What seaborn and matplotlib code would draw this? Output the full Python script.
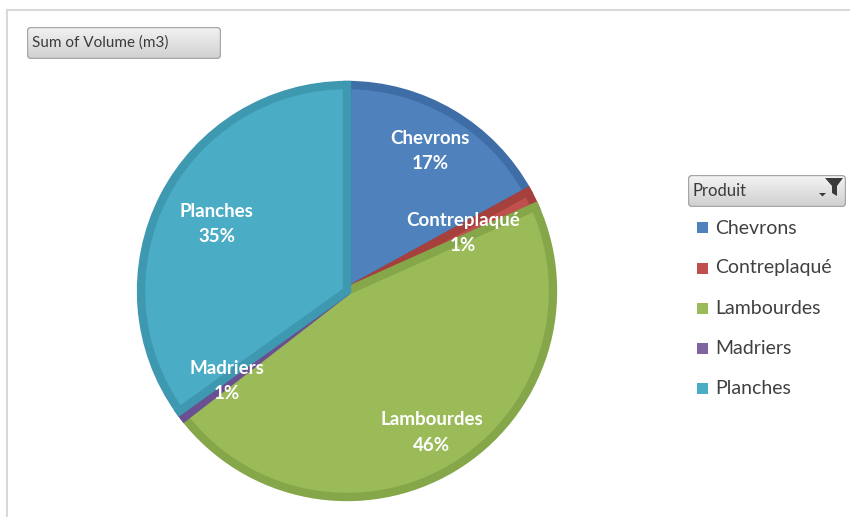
import numpy as np
import matplotlib
matplotlib.use("Agg")
import matplotlib.pyplot as plt
from matplotlib.patches import FancyBboxPatch, Rectangle, Polygon
from matplotlib.lines import Line2D
import seaborn as sns

# Sum of volume (m3) per product
produits = ["Chevrons", "Contreplaqué", "Lambourdes", "Madriers", "Planches"]
volumes = [17.0, 1.3, 46.2, 0.6, 34.9]

colors = ["#4F81BD", "#C0504D", "#9BBB59", "#8064A2", "#4BACC6"]
edges = ["#3F6DA6", "#A5403D", "#86A64A", "#6A5090", "#3D98B0"]

sns.set_theme(style="white")
plt.rcParams["font.family"] = ["Lato", "DejaVu Sans"]

W, H = 850, 517
fig = plt.figure(figsize=(W / 100, H / 100), dpi=100)
fig.patch.set_facecolor("white")


def fx(px):
    return px / W


def fy(py):
    return 1 - py / H


# chart area frame (top and left edges)
fig.add_artist(Line2D([fx(7), fx(850)], [fy(10), fy(10)], color="#D9D9D9", lw=1.5))
fig.add_artist(Line2D([fx(7), fx(7)], [fy(10), fy(517)], color="#D9D9D9", lw=1.5))

# pie
cx, cy, R = 347, 291, 206
ax = fig.add_axes([fx(cx - R), fy(cy + R), (2 * R) / W, (2 * R) / H])

wedges, _ = ax.pie(volumes, colors=colors, startangle=90, counterclock=False,
                   radius=1.0, wedgeprops=dict(linewidth=0))
ax.set_xlim(-1, 1)
ax.set_ylim(-1, 1)
ax.set_aspect("equal")
ax.axis("off")

# inset darker outline on each slice
for w, ec in zip(wedges, edges):
    w.set_edgecolor(ec)
    w.set_linewidth(6)
    w.set_clip_path(w)

total = sum(volumes)
label_r = [0.79, 0.63, 0.80, 0.73, 0.71]
cum = 0.0
for name, v, r in zip(produits, volumes, label_r):
    mid = (cum + v / 2) / total * 2 * np.pi
    cum += v
    x, y = r * np.sin(mid), r * np.cos(mid)
    pct = round(v / total * 100)
    ax.text(x, y, f"{name}\n{pct:.0f}%", ha="center", va="center",
            color="white", fontsize=13.5, fontweight="bold", linespacing=1.6)


def button(x0, y0, x1, y1, text, size, funnel=False):
    bax = fig.add_axes([fx(x0), fy(y1), (x1 - x0) / W, (y1 - y0) / H])
    bax.set_xlim(0, x1 - x0)
    bax.set_ylim(0, y1 - y0)
    bax.axis("off")
    box = FancyBboxPatch((0.5, 0.5), x1 - x0 - 1, y1 - y0 - 1,
                         boxstyle="round,pad=0,rounding_size=4",
                         facecolor="none", edgecolor="#A6A6A6", lw=1)
    grad = np.linspace(0, 1, 64).reshape(-1, 1)
    img = bax.imshow(grad, cmap=matplotlib.colors.LinearSegmentedColormap.from_list(
        "g", ["#F4F4F4", "#CFCFCF"]), aspect="auto",
        extent=[0, x1 - x0, 0, y1 - y0], origin="upper")
    bax.add_patch(box)
    img.set_clip_path(box)
    bax.text(5, (y1 - y0) / 2, text, ha="left", va="center",
             fontsize=size, color="#3A3A3A")
    if funnel:
        w = x1 - x0
        hh = y1 - y0
        bax.add_patch(Polygon([[w - 21, hh - 3], [w - 3, hh - 3], [w - 9, hh - 11],
                               [w - 9, hh - 21], [w - 14, hh - 18], [w - 14, hh - 11]],
                              closed=True, facecolor="#3A3A3A", edgecolor="none"))
        bax.add_patch(Polygon([[w - 27, hh - 18], [w - 20, hh - 18], [w - 23.5, hh - 21.5]],
                              closed=True, facecolor="#3A3A3A", edgecolor="none"))
    return bax


button(27, 27, 221, 59, "Sum of Volume (m3)", 11)
button(688, 175, 846, 207, "Produit", 12, funnel=True)

# legend
rows = [228, 268, 308, 348, 388]
for name, c, yy in zip(produits, colors, rows):
    fig.add_artist(Rectangle((fx(697), fy(yy + 5.5)), 11 / W, 11 / H,
                             facecolor=c, edgecolor="none"))
    fig.text(fx(715), fy(yy), name, ha="left", va="center",
             fontsize=14, color="#404040")

fig.savefig("out.png", dpi=100)
